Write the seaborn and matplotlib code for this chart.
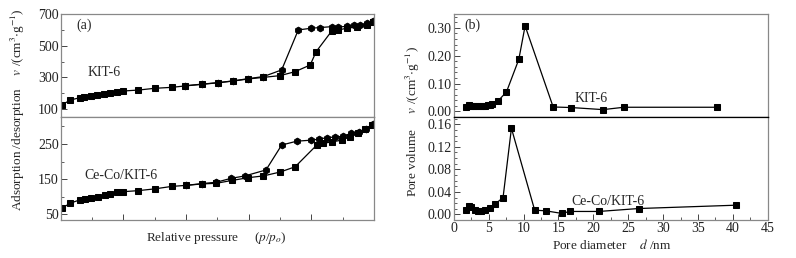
import numpy as np
import matplotlib.pyplot as plt
import seaborn as sns
from matplotlib.ticker import MultipleLocator

# (a) N2 adsorption / desorption isotherms
p_ads_kit = [0.004, 0.03, 0.062, 0.074, 0.095, 0.117, 0.138, 0.157, 0.179, 0.2, 0.248, 0.30, 0.354, 0.397,
             0.45, 0.503, 0.551, 0.599, 0.647, 0.70, 0.748, 0.796, 0.815, 0.865, 0.886, 0.913, 0.945, 0.977, 0.998]
v_ads_kit = [126, 157, 172, 178, 185, 189, 195, 201, 208, 214, 220, 231, 237, 246,
             256, 266, 277, 290, 300, 311, 336, 378, 462, 593, 599, 610, 618, 631, 651]
p_des_kit = [0.998, 0.977, 0.955, 0.935, 0.913, 0.886, 0.865, 0.828, 0.80, 0.758, 0.705, 0.647, 0.599,
             0.551, 0.503, 0.45, 0.397]
v_des_kit = [654, 640, 632, 628, 622, 617, 620, 614, 610, 599, 347, 305, 292, 278, 267, 257, 247]

p_ads_ceco = [0.004, 0.03, 0.062, 0.077, 0.098, 0.119, 0.14, 0.157, 0.179, 0.2, 0.248, 0.30, 0.354, 0.4,
              0.45, 0.497, 0.546, 0.599, 0.647, 0.70, 0.748, 0.817, 0.838, 0.865, 0.897, 0.923, 0.95, 0.971, 0.993]
v_ads_ceco = [67, 81, 91, 94, 97, 100, 105, 108, 112, 114, 117, 122, 129, 132,
              136, 138, 146, 154, 159, 170, 185, 247, 252, 256, 261, 271, 280, 293, 304]
p_des_ceco = [0.998, 0.975, 0.953, 0.926, 0.90, 0.876, 0.849, 0.825, 0.80, 0.753, 0.705, 0.655, 0.588,
              0.543, 0.497, 0.45, 0.4]
v_des_ceco = [308, 293, 285, 280, 272, 270, 268, 264, 261, 258, 247, 176, 159, 152, 141, 137, 132]

# (b) pore size distributions
d_kit = [1.82, 2.2, 2.5, 2.78, 3.1, 3.5, 3.85, 4.2, 4.55, 4.93, 5.25, 5.55, 6.36, 7.56, 9.33, 10.23,
         14.25, 16.8, 21.4, 24.4, 37.8]
pv_kit = [0.015, 0.023, 0.021, 0.018, 0.019, 0.020, 0.020, 0.021, 0.021, 0.022, 0.023, 0.025, 0.038,
          0.070, 0.187, 0.307, 0.016, 0.014, 0.0065, 0.015, 0.015]
d_ceco = [1.82, 2.2, 2.53, 3.0, 3.49, 3.97, 4.45, 5.16, 5.88, 7.07, 8.27, 11.6, 13.2, 15.5, 16.6, 20.8,
          26.5, 40.4]
pv_ceco = [0.0076, 0.0153, 0.0135, 0.0076, 0.0064, 0.0064, 0.0076, 0.0107, 0.0178, 0.030, 0.153,
           0.0076, 0.0064, 0.0018, 0.0053, 0.0053, 0.0105, 0.0164]

sns.set_style("ticks")
plt.rcParams['font.family'] = ['Liberation Serif', 'DejaVu Serif']
plt.rcParams['mathtext.fontset'] = 'stix'
plt.rcParams['font.size'] = 9.5

fig = plt.figure(figsize=(7.96, 2.58), dpi=100)
ax1 = fig.add_axes([0.0763, 0.5465, 0.3937, 0.3995])
ax2 = fig.add_axes([0.0763, 0.147, 0.3937, 0.3995])
ax3 = fig.add_axes([0.570, 0.5465, 0.3945, 0.3995])
ax4 = fig.add_axes([0.570, 0.147, 0.3945, 0.3995])

kw = dict(color='black', lw=0.9, markeredgecolor='black', markersize=4.8, sort=False, estimator=None)

sns.lineplot(x=p_ads_kit, y=v_ads_kit, marker='s', ax=ax1, **kw)
sns.lineplot(x=p_des_kit, y=v_des_kit, marker='h', ax=ax1, **kw)
sns.lineplot(x=p_ads_ceco, y=v_ads_ceco, marker='s', ax=ax2, **kw)
sns.lineplot(x=p_des_ceco, y=v_des_ceco, marker='h', ax=ax2, **kw)
sns.lineplot(x=d_kit, y=pv_kit, marker='s', ax=ax3, **kw)
sns.lineplot(x=d_ceco, y=pv_ceco, marker='s', ax=ax4, **kw)

ax1.set_xlim(0, 1.0)
ax2.set_xlim(0, 1.0)
ax1.set_ylim(50, 700)
ax2.set_ylim(33, 327)
ax3.set_xlim(0, 45)
ax4.set_xlim(0, 45)
ax3.set_ylim(-0.02, 0.35)
ax4.set_ylim(-0.01, 0.173)

ax1.set_yticks([100, 300, 500, 700])
ax1.yaxis.set_minor_locator(MultipleLocator(100))
ax2.set_yticks([50, 150, 250])
ax2.yaxis.set_minor_locator(MultipleLocator(50))
ax2.xaxis.set_major_locator(MultipleLocator(0.2))
ax2.xaxis.set_minor_locator(MultipleLocator(0.1))
ax2.set_xticklabels([])
ax3.set_yticks([0.0, 0.1, 0.2, 0.3])
ax3.set_yticklabels(["0.00", "0.10", "0.20", "0.30"])
ax3.yaxis.set_minor_locator(MultipleLocator(0.02))
ax4.set_yticks([0.0, 0.04, 0.08, 0.12, 0.16])
ax4.set_yticklabels(["0.00", "0.04", "0.08", "0.12", "0.16"])
ax4.yaxis.set_minor_locator(MultipleLocator(0.01))
ax4.xaxis.set_major_locator(MultipleLocator(5))
ax4.xaxis.set_minor_locator(MultipleLocator(2.5))

for ax in [ax1, ax2, ax3, ax4]:
    ax.tick_params(which='both', direction='in', labelsize=10, colors='#222222', pad=1.5)
    ax.tick_params(which='major', length=4, width=0.7, color='#444444')
    ax.tick_params(which='minor', length=2.5, width=0.6, color='#444444')
    for s in ax.spines.values():
        s.set_color('#888888')
        s.set_linewidth(0.9)
for ax in [ax1, ax3]:
    ax.tick_params(axis='x', which='both', bottom=False, labelbottom=False)
ax3.spines['bottom'].set_color('black')
ax4.spines['top'].set_color('black')

ax1.text(0.05, 0.86, "(a)", transform=ax1.transAxes, fontsize=10)
ax3.text(0.035, 0.86, "(b)", transform=ax3.transAxes, fontsize=10)
ax1.text(0.085, 0.40, "KIT-6", transform=ax1.transAxes, fontsize=10)
ax2.text(0.075, 0.40, "Ce-Co/KIT-6", transform=ax2.transAxes, fontsize=10)
ax3.text(0.385, 0.15, "KIT-6", transform=ax3.transAxes, fontsize=10)
ax4.text(0.375, 0.15, "Ce-Co/KIT-6", transform=ax4.transAxes, fontsize=10)

fig.text(0.022, 0.575, r"Adsorption /desorption    $v$ /(cm$^3$$\cdot$g$^{-1}$)",
         rotation=90, ha='center', va='center', fontsize=9.5)
fig.text(0.519, 0.53, r"Pore volume     $v$ /(cm$^3$$\cdot$g$^{-1}$)",
         rotation=90, ha='center', va='center', fontsize=9.5)
fig.text(0.272, 0.077, r"Relative pressure     ($p$/$p_o$)", ha='center', va='center', fontsize=9.5)
fig.text(0.768, 0.05, r"Pore diameter    $d$ /nm", ha='center', va='center', fontsize=9.5)

plt.savefig("out.png", dpi=100)
